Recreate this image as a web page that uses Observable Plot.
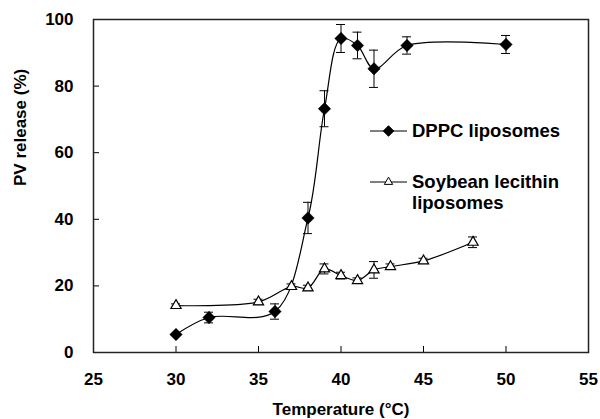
<!DOCTYPE html>
<html>
<head>
<meta charset="utf-8">
<script src="https://cdn.jsdelivr.net/npm/d3@7"></script>
<script src="https://cdn.jsdelivr.net/npm/@observablehq/plot@0.6"></script>
<style>
  html, body { margin: 0; padding: 0; background: #fff; }
  #wrap { position: relative; width: 600px; height: 419px; }
  #legend { position: absolute; left: 0; top: 0; width: 600px; height: 419px; pointer-events: none; }
  text { font-family: "Liberation Sans", Arial, sans-serif; }
</style>
</head>
<body>
<div id="wrap"></div>
<script>
// Data
const dppcTemp    = [30, 32, 36, 38, 39, 40, 41, 42, 44, 50];
const dppcRelease = [5.4, 10.5, 12.3, 40.4, 73.2, 94.3, 92.2, 85.2, 92.2, 92.5];
const dppcError   = [0, 1.6, 2.3, 4.7, 5.4, 4.2, 4.0, 5.6, 2.6, 2.7];

const soyTemp    = [30, 35, 37, 38, 39, 40, 41, 42, 43, 45, 48];
const soyRelease = [14.1, 15.2, 19.8, 19.4, 25.1, 23.1, 21.6, 24.8, 25.8, 27.5, 33.1];
const soyError   = [0.5, 0.8, 0.8, 0.8, 1.5, 1.0, 0.8, 2.5, 0.8, 0.8, 1.6];

const xTicks = [25, 30, 35, 40, 45, 50, 55];
const yTicks = [0, 20, 40, 60, 80, 100];

const seriesNames = ["DPPC liposomes", "Soybean lecithin liposomes"];
const xTitle = "Temperature (\u00B0C)";
const yTitle = "PV release (%)";

const dppc = dppcTemp.map((t, i) => ({t, v: dppcRelease[i], e: dppcError[i]}));
const soy  = soyTemp.map((t, i) => ({t, v: soyRelease[i], e: soyError[i]}));

const errMarks = (data) => {
  const d = data.filter(p => p.e > 0);
  return [
    Plot.ruleX(d, {x: "t", y1: p => p.v - p.e, y2: p => p.v + p.e, stroke: "#000", strokeWidth: 1}),
    Plot.ruleY(d, {y: p => p.v + p.e, x1: "t", x2: "t", insetLeft: -4.5, insetRight: -4.5, stroke: "#000", strokeWidth: 1}),
    Plot.ruleY(d, {y: p => p.v - p.e, x1: "t", x2: "t", insetLeft: -4.5, insetRight: -4.5, stroke: "#000", strokeWidth: 1})
  ];
};

const chart = Plot.plot({
  width: 600,
  height: 419,
  marginLeft: 93,
  marginRight: 12,
  marginTop: 19,
  marginBottom: 67,
  style: {fontFamily: "'Liberation Sans', Arial, sans-serif", fontSize: "17px", fontWeight: "bold", color: "#000", background: "#fff"},
  x: {domain: [25, 55], ticks: xTicks, tickSize: -6, tickPadding: 26, label: null, tickFormat: d3.format("d")},
  y: {domain: [0, 100], ticks: yTicks, tickSize: -6, tickPadding: 26, label: null, tickFormat: d3.format("d")},
  marks: [
    Plot.frame({stroke: "#222", strokeWidth: 1.5}),
    Plot.text([xTitle], {text: d => d, frameAnchor: "bottom", dy: 62, fontSize: 17, fontWeight: "bold", fill: "#000"}),
    Plot.text([yTitle], {text: d => d, frameAnchor: "left", dx: -73, rotate: -90, fontSize: 17, fontWeight: "bold", fill: "#000"}),
    Plot.line(soy, {x: "t", y: "v", curve: "catmull-rom", stroke: "#000", strokeWidth: 1.2}),
    Plot.line(dppc, {x: "t", y: "v", curve: "catmull-rom", stroke: "#000", strokeWidth: 1.2}),
    ...errMarks(soy),
    ...errMarks(dppc),
    Plot.dot(soy, {x: "t", y: "v", symbol: "triangle", r: 3.8, fill: "#fff", stroke: "#000", strokeWidth: 1.2}),
    Plot.dot(dppc, {x: "t", y: "v", symbol: "diamond2", r: 5.6, fill: "#000", stroke: "#000", strokeWidth: 0.5})
  ]
});

const wrap = document.getElementById("wrap");
wrap.appendChild(chart);

// Legend overlay
const svg = d3.select(wrap).append("svg")
  .attr("id", "legend").attr("width", 600).attr("height", 419);
const legendItems = [
  {name: seriesNames[0], lines: ["DPPC liposomes"], y: 131, sym: d3.symbolDiamond2, size: 70, fill: "#000"},
  {name: seriesNames[1], lines: ["Soybean lecithin", "liposomes"], y: 182, sym: d3.symbolTriangle, size: 30, fill: "#fff"}
];
legendItems.forEach(it => {
  const g = svg.append("g");
  g.append("line").attr("x1", 370).attr("x2", 407).attr("y1", it.y).attr("y2", it.y)
    .attr("stroke", "#000").attr("stroke-width", 1.2);
  g.append("path").attr("d", d3.symbol(it.sym, it.size)()).attr("transform", `translate(388.5,${it.y})`)
    .attr("fill", it.fill).attr("stroke", "#000").attr("stroke-width", 1);
  it.lines.forEach((ln, j) => {
    g.append("text").attr("x", 412).attr("y", it.y + j * 20.5).attr("dy", "0.35em")
      .attr("font-size", 18.5).attr("font-weight", "bold").attr("fill", "#000").text(ln);
  });
});
</script>
</body>
</html>
